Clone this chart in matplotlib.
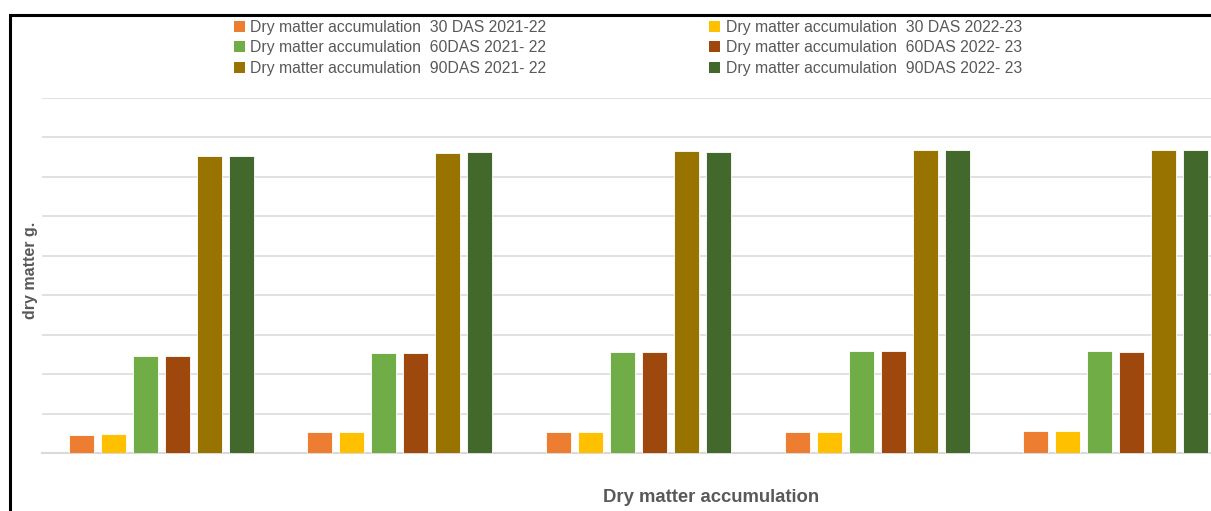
import numpy as np
import matplotlib.pyplot as plt
from matplotlib.patches import Rectangle, Patch

plt.rcParams['font.family'] = ['Liberation Sans', 'DejaVu Sans']

# five treatment groups (no labels shown on the original axis)
groups = ['G1', 'G2', 'G3', 'G4', 'G5']

series = [
    'Dry matter accumulation  30 DAS 2021-22',
    'Dry matter accumulation  30 DAS 2022-23',
    'Dry matter accumulation  60DAS 2021- 22',
    'Dry matter accumulation  60DAS 2022- 23',
    'Dry matter accumulation  90DAS 2021- 22',
    'Dry matter accumulation  90DAS 2022- 23',
]
das30_2122 = [4.6, 5.3, 5.3, 5.3, 5.6]
das30_2223 = [4.8, 5.3, 5.3, 5.3, 5.6]
das60_2122 = [24.6, 25.4, 25.6, 25.9, 25.9]
das60_2223 = [24.6, 25.4, 25.6, 25.9, 25.6]
das90_2122 = [75.4, 76.1, 76.6, 76.9, 76.9]
das90_2223 = [75.4, 76.3, 76.4, 76.9, 76.9]
values = [das30_2122, das30_2223, das60_2122, das60_2223, das90_2122, das90_2223]

colors = ['#ED7D31', '#FFC000', '#70AD47', '#9E480E', '#997300', '#43682B']

fig = plt.figure(figsize=(12.11, 5.11), dpi=100)
ax = fig.add_axes([42 / 1211, 58 / 511, (1235 - 42) / 1211, 355 / 511])

x = np.arange(len(groups))
step = 0.134
width = 0.105
handles = []
for i, (vals, col) in enumerate(zip(values, colors)):
    ax.bar(x + (i - 2.5) * step, vals, width, color=col,
           edgecolor='#ffffff', linewidth=0.6, zorder=3)
    handles.append(Patch(facecolor=col, label=series[i]))

ax.set_xlim(-0.5, len(groups) - 0.5)
ax.set_ylim(0, 90)
ax.set_yticks(np.arange(0, 91, 10))
ax.set_xticks([])
ax.tick_params(axis='y', length=0, labelleft=False)
ax.grid(axis='y', color='#d9d9d9', linewidth=1.1, zorder=0)
ax.axhline(0, color='#d9d9d9', linewidth=1.5, zorder=1, clip_on=False)
ax.set_axisbelow(True)
for s in ax.spines.values():
    s.set_visible(False)

fig.text(30 / 1211, 1 - 270 / 511, 'dry matter g.', rotation=90,
         ha='center', va='center', fontsize=11.5, fontweight='bold', color='#595959')
fig.text(711 / 1211, 1 - 498 / 511, 'Dry matter accumulation',
         ha='center', va='center', fontsize=13.3, fontweight='bold', color='#595959')

order = [0, 2, 4, 1, 3, 5]
leg = fig.legend([handles[k] for k in order], [series[k] for k in order],
                 loc='upper left', bbox_to_anchor=(221 / 1211, 1 - 7 / 511),
                 ncol=2, frameon=False, fontsize=11.3, handlelength=0.7,
                 handleheight=0.7, handletextpad=0.35, columnspacing=10.4,
                 labelspacing=0.37, borderpad=0.3)
for t in leg.get_texts():
    t.set_color('#595959')

fig.patches.append(Rectangle((10 / 1211, -0.2), 1.2, 1.2 - 15 / 511,
                             transform=fig.transFigure, fill=False,
                             edgecolor='black', linewidth=2.2))

fig.savefig('out.png', dpi=100)
